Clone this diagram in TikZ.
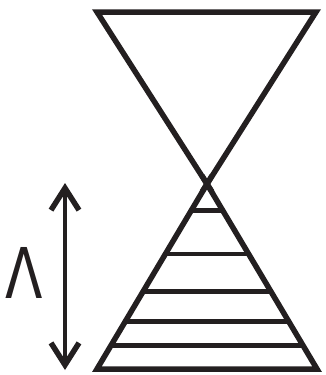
\documentclass[tikz,border=0pt]{standalone}
\usepackage{fontspec}
\newfontfamily\lamfont{DejaVu Sans}
\usetikzlibrary{calc,arrows.meta}
\definecolor{ink}{HTML}{231F20}
\begin{document}
\begin{tikzpicture}[x=1pt,y=-1pt,
  tri/.style={draw=ink,line width=5.5pt,line join=miter,line cap=butt},
  rung/.style={draw=ink,line width=4.5pt},
  barb/.tip={Straight Barb[sharp,length=22pt,width=28pt,line width=5.5pt]},
  dblarrow/.style={draw=ink,line width=4.5pt,{barb}-{barb}}]
\useasboundingbox (0,0) rectangle (325,375);
% key points
\coordinate (apex) at (207,184);
\coordinate (TL) at (97,12);
\coordinate (TR) at (316,12);
\coordinate (BL) at (97,369);
\coordinate (BR) at (317,369);
% top (inverted) triangle, sides run a little past the apex
\draw[tri] ($(TL)!1.045!(apex)$) -- (TL) -- (TR) -- ($(TR)!1.045!(apex)$);
% bottom triangle
\draw[tri] ($(BL)!1.045!(apex)$) -- (BL) -- (BR) -- ($(BR)!1.045!(apex)$);
% rungs
\foreach \t in {0.144,0.378,0.582,0.744,0.874}{
  \draw[rung] ($(apex)!\t!(BL)$) -- ($(apex)!\t!(BR)$);
}
% double arrow
\coordinate (up) at (65,183);
\coordinate (dn) at (65,370);
\draw[dblarrow] (up) -- (dn);
% label
\node[text=ink,inner sep=0pt,anchor=base,font=\lamfont\fontsize{70}{70}\selectfont] (lam) at (24.5,298) {\scalebox{0.78}[1]{Λ}};
\end{tikzpicture}
\end{document}
